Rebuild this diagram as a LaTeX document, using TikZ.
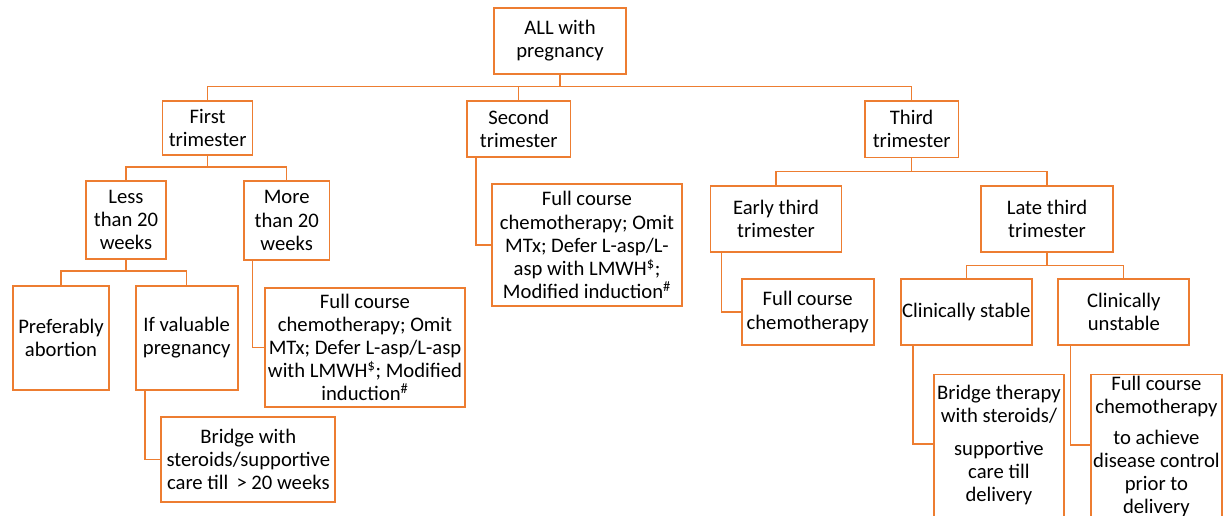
\documentclass[tikz,border=0pt]{standalone}
\usepackage{fontspec}
\setmainfont{Carlito}
\definecolor{boxorange}{RGB}{237,125,49}
\tikzset{
  blk/.style={draw=boxorange, line width=1.3pt, align=center, inner sep=1pt,
    font=\fontsize{15.5}{17.3}\selectfont},
  link/.style={draw=boxorange, line width=1pt}
}

\begin{document}
\begin{tikzpicture}[x=0.75pt,y=-0.75pt]
\clip (0,0) rectangle (1226,516);
% root and trimesters
\node[blk, minimum width=99pt, minimum height=49.5pt] (root) at (560,41) {ALL with\\pregnancy};
\node[blk, minimum width=67.5pt, minimum height=41pt] (first) at (207.6,128) {First\\trimester};
\node[blk, minimum width=77.7pt, minimum height=42pt] (second) at (518.8,129) {Second\\trimester};
\node[blk, minimum width=70.4pt, minimum height=42.5pt] (third) at (911.6,129.3) {Third\\trimester};
% first trimester
\node[blk, minimum width=59.9pt, minimum height=58.5pt] (less20) at (126,220) {Less\\than 20\\weeks};
\node[blk, minimum width=64pt, minimum height=59.3pt] (more20) at (286.7,220.5) {More\\than 20\\weeks};
\node[blk, minimum width=71.5pt, minimum height=78pt] (abort) at (61,338) {Preferably\\abortion};
\node[blk, minimum width=76.5pt, minimum height=78pt] (valuable) at (186.7,338) {If valuable\\pregnancy};
\node[blk, minimum width=150pt, minimum height=88.8pt] (firstfull) at (365,347.5)
  {Full course\\chemotherapy; Omit\\MTx; Defer L-asp/L-asp\\with LMWH\textsuperscript{\$}; Modified\\induction\textsuperscript{\#}};
\node[blk, minimum width=130.5pt, minimum height=63.3pt] (bridgeone) at (248.3,459.5)
  {Bridge with\\steroids/supportive\\care till \,> 20 weeks};
% second trimester
\node[blk, minimum width=142pt, minimum height=91pt] (secfull) at (587,245)
  {Full course\\chemotherapy; Omit\\MTx; Defer L-asp/L-\\asp with LMWH\textsuperscript{\$};\\Modified induction\textsuperscript{\#}};
% third trimester
\node[blk, minimum width=98.2pt, minimum height=49.5pt] (early) at (776,218.7) {Early third\\trimester};
\node[blk, minimum width=98.6pt, minimum height=49.5pt] (late) at (1047,218.7) {Late third\\trimester};
\node[blk, minimum width=99pt, minimum height=49pt] (earlyfull) at (807.7,312) {Full course\\chemotherapy};
\node[blk, minimum width=98.3pt, minimum height=49pt] (stable) at (966.2,312) {Clinically stable};
\node[blk, minimum width=98.3pt, minimum height=49pt] (unstable) at (1123.8,312) {Clinically\\unstable};
\node[blk, minimum width=97.7pt, anchor=north, inner ysep=8pt, text depth=110pt] (bridgetwo) at (998.9,373.7)
  {Bridge therapy\\with steroids/\\[7pt]supportive\\care till\\delivery};
\node[blk, minimum width=98pt, anchor=north, inner ysep=1pt, text depth=110pt] (unsfull) at (1156.4,373.7)
  {Full course\\chemotherapy\\[6pt]to achieve\\disease control\\prior to\\delivery};

% tree links
\draw[link] (first.north) -- ++(0,-13) coordinate (busa) -| (third.north);
\draw[link] (root.south) -- (root.south |- busa);
\draw[link] (second.north) -- (second.north |- busa);
\draw[link] (less20.north) -- ++(0,-13) coordinate (busb) -| (more20.north);
\draw[link] (first.south) -- (first.south |- busb);
\draw[link] (abort.north) -- ++(0,-14) coordinate (busc) -| (valuable.north);
\draw[link] (less20.south) -- (less20.south |- busc);
\draw[link] (early.north) -- ++(0,-13) coordinate (busd) -| (late.north);
\draw[link] (third.south) -- (third.south |- busd);
\draw[link] (stable.north) -- ++(0,-13) coordinate (buse) -| (unstable.north);
\draw[link] (late.south) -- (late.south |- buse);
% side links
\draw[link] ([xshift=7pt]more20.south west) |- (firstfull.west);
\draw[link] ([xshift=7.4pt]second.south west) |- (secfull.west);
\draw[link] ([xshift=7.7pt]valuable.south west) |- (bridgeone.west);
\draw[link] ([xshift=8.8pt]early.south west) |- (earlyfull.west);
\draw[link] ([xshift=10pt]stable.south west) |- ([yshift=-52.7pt]bridgetwo.north west);
\draw[link] ([xshift=10pt]unstable.south west) |- ([yshift=-53.5pt]unsfull.north west);
\end{tikzpicture}
\end{document}
